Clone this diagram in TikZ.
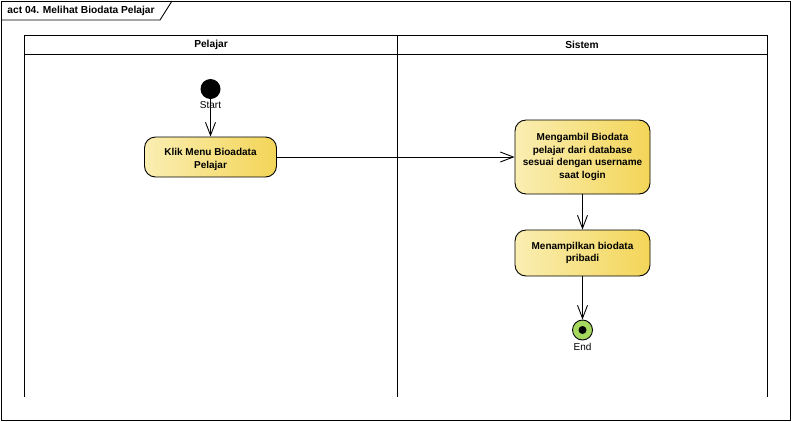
\documentclass[tikz,border=0pt]{standalone}
\usepackage{fontspec}
\setmainfont{Liberation Sans}
\usetikzlibrary{arrows.meta}

\definecolor{actleft}{RGB}{250,238,178}
\definecolor{actright}{RGB}{243,213,88}
\definecolor{endgreen}{RGB}{166,216,96}

\begin{document}
\begin{tikzpicture}[x=1pt,y=-1pt, line width=0.9pt,
  action/.style={draw, rounded corners=11pt, left color=actleft, right color=actright, align=center, inner sep=2pt, font=\bfseries\fontsize{10}{12.8}\selectfont},
  lanehead/.style={font=\bfseries\fontsize{10.2}{12}\selectfont},
  caption/.style={font=\fontsize{10}{11}\selectfont, inner sep=0pt},
  flow/.style={-{Straight Barb[length=13pt,width=10pt]}}]
\useasboundingbox (0,0) rectangle (791,421);

% frame and title
\draw (1,1) rectangle (790,420);
\draw (1,20) -- (160,20) -- (172,1);
\node[lanehead, anchor=west, inner sep=0pt] (title) at (7,10.5) {act 04. Melihat Biodata Pelajar};

% swimlanes
\draw (24,35) rectangle (767,54);
\draw (24,54) -- (24,397);
\draw (397,35) -- (397,397);
\draw (767,54) -- (767,397);
\node[lanehead] (pelajar) at (211,44.5) {Pelajar};
\node[lanehead] (sistem) at (582,44.5) {Sistem};

% nodes
\node[circle, fill=black, minimum size=20pt, inner sep=0pt] (start) at (210.5,89) {};
\node[caption] (startlbl) at (210.5,105) {Start};
\node[action, minimum width=132pt, minimum height=40pt] (klik) at (210.5,157) {\rule{0pt}{12pt}Klik Menu Bioadata\\Pelajar};
\node[action, minimum width=135pt, minimum height=74pt] (ambil) at (582.5,157) {Mengambil Biodata\\pelajar dari database\\sesuai dengan username\\saat login};
\node[action, minimum width=135pt, minimum height=46pt] (tampil) at (582.5,253) {Menampilkan biodata\\pribadi};
\node[circle, draw, fill=endgreen, minimum size=20pt, inner sep=0pt] (end) at (582.5,330) {};
\node[circle, fill=black, minimum size=8pt, inner sep=0pt] (enddot) at (end) {};
\node[caption] (endlbl) at (582.5,347) {End};

% connectors
\draw[flow] (start) -- (klik);
\draw[flow] (klik) -- (ambil);
\draw[flow] (ambil) -- (tampil);
\draw[flow] (tampil) -- (end);
\end{tikzpicture}
\end{document}
